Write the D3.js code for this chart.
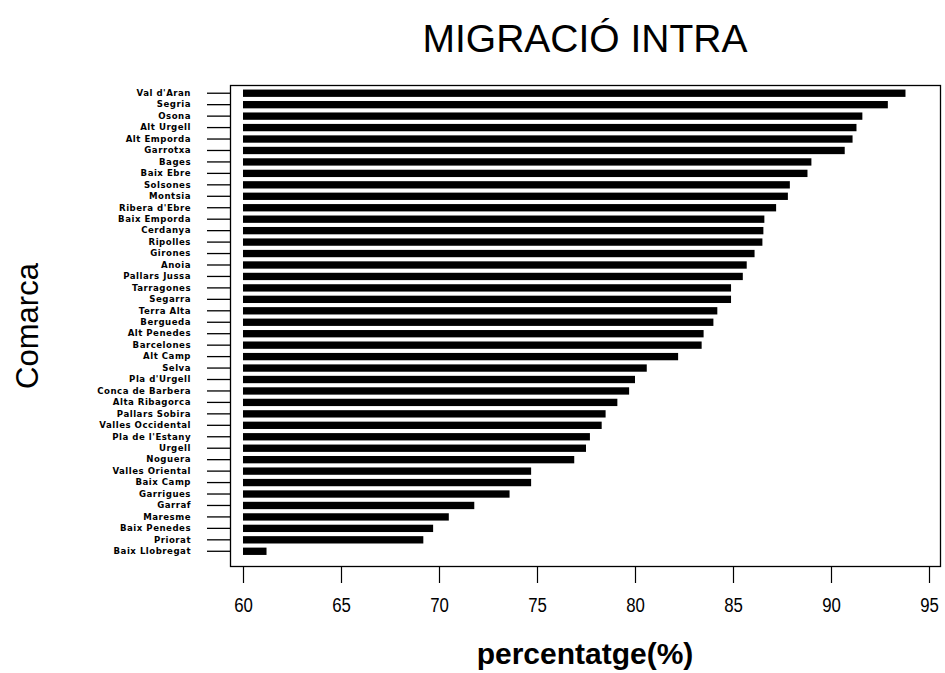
<!DOCTYPE html>
<html><head><meta charset="utf-8">
<script src="https://cdn.jsdelivr.net/npm/d3@7"></script>
<style>body{margin:0;background:#fff}</style>
</head><body>
<script>
const categories = ["Val d'Aran","Segria","Osona","Alt Urgell","Alt Emporda","Garrotxa","Bages","Baix Ebre","Solsones","Montsia","Ribera d'Ebre","Baix Emporda","Cerdanya","Ripolles","Girones","Anoia","Pallars Jussa","Tarragones","Segarra","Terra Alta","Bergueda","Alt Penedes","Barcelones","Alt Camp","Selva","Pla d'Urgell","Conca de Barbera","Alta Ribagorca","Pallars Sobira","Valles Occidental","Pla de l'Estany","Urgell","Noguera","Valles Oriental","Baix Camp","Garrigues","Garraf","Maresme","Baix Penedes","Priorat","Baix Llobregat"];
const values = [93.8,92.9,91.6,91.3,91.1,90.7,89.0,88.8,87.9,87.8,87.2,86.6,86.55,86.5,86.1,85.7,85.5,84.9,84.9,84.2,84.0,83.5,83.4,82.2,80.6,80.0,79.7,79.1,78.5,78.3,77.7,77.5,76.9,74.7,74.7,73.6,71.8,70.5,69.7,69.2,61.2];
const xTicks = [60,65,70,75,80,85,90,95];
const title = "MIGRACIÓ INTRA";
const xTitle = "percentatge(%)";
const yTitle = "Comarca";

const W = 945, H = 673;
const box = {l:230, r:940, t:85, b:566};
const svg = d3.select("body").append("svg").attr("width",W).attr("height",H);

const x = d3.scaleLinear().domain([60,95]).range([243,929]);
const y = d3.scaleBand().domain(categories).range([87.5,557]).paddingInner(0.36).paddingOuter(0.18);

svg.append("g").selectAll("rect").data(values).join("rect")
  .attr("x", x(60))
  .attr("y", (d,i)=>y(categories[i]))
  .attr("width", d=>x(d)-x(60))
  .attr("height", y.bandwidth())
  .attr("fill","#000");

svg.append("rect").attr("x",box.l+0.5).attr("y",box.t+0.5)
  .attr("width",box.r-box.l).attr("height",box.b-box.t)
  .attr("fill","none").attr("stroke","#000").attr("stroke-width",1.3);

// x axis
const xa = svg.append("g").attr("transform",`translate(0,${box.b})`)
  .call(d3.axisBottom(x).tickValues(xTicks).tickSize(17).tickPadding(14).tickFormat(d3.format("d")));
xa.select(".domain").remove();
xa.selectAll("line").attr("stroke","#000").attr("stroke-width",1.2);
xa.selectAll("text").attr("font-family","Liberation Sans, Arial, sans-serif").attr("font-size",21).attr("fill","#000")
  .attr("transform","scale(0.8,1)");

// y axis
const ya = svg.append("g").attr("transform",`translate(${box.l},0)`)
  .call(d3.axisLeft(y).tickSize(23).tickPadding(16));
ya.select(".domain").remove();
ya.selectAll("line").attr("stroke","#000").attr("stroke-width",1.3);
ya.selectAll("text").attr("font-family","DejaVu Sans, sans-serif").attr("font-weight","bold")
  .attr("font-size",8.6).attr("fill","#000").attr("letter-spacing",0.5);

svg.append("text").attr("x",585).attr("y",52).attr("text-anchor","middle")
  .attr("font-family","Liberation Sans, Arial, sans-serif").attr("font-size",39).text(title);
svg.append("text").attr("x",585).attr("y",664).attr("text-anchor","middle")
  .attr("font-family","Liberation Sans, Arial, sans-serif").attr("font-size",30).attr("font-weight","bold").text(xTitle);
svg.append("text").attr("transform","translate(38,326) rotate(-90)").attr("text-anchor","middle")
  .attr("font-family","Liberation Sans, Arial, sans-serif").attr("font-size",31).text(yTitle);
</script>
</body></html>
